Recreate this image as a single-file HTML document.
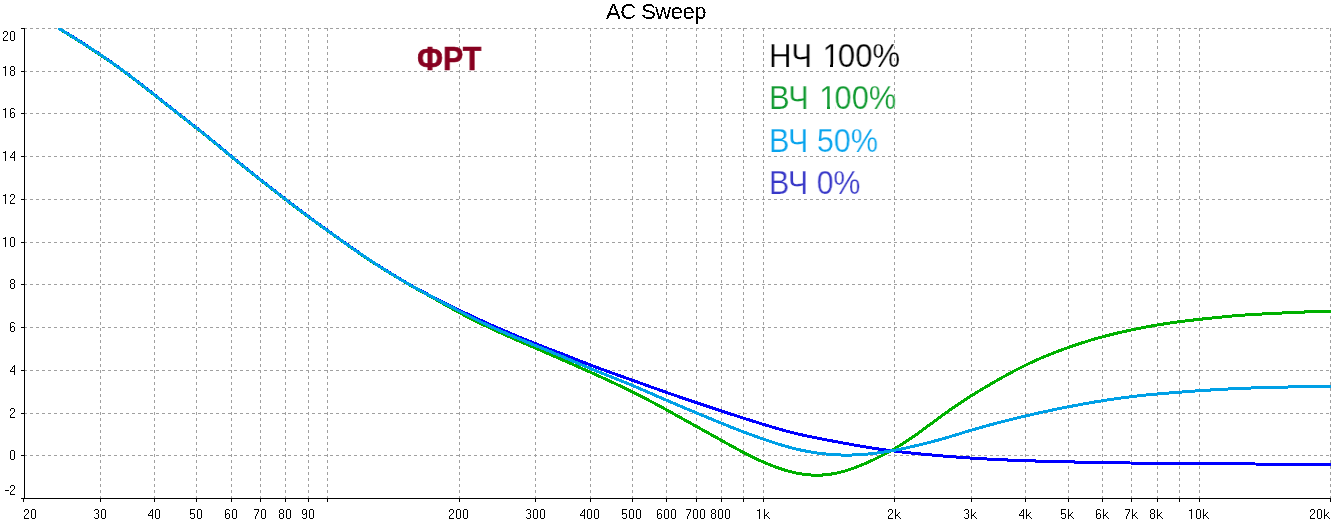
<!DOCTYPE html>
<html><head><meta charset="utf-8"><style>
html,body{margin:0;padding:0;background:#fff;width:1332px;height:522px;overflow:hidden;position:relative}
.t{position:absolute;font-family:"Liberation Sans",sans-serif;white-space:nowrap;line-height:1}
.r{right:1317px;text-align:right;letter-spacing:-0.8px;font-size:14px;filter:url(#k)}
.xl{top:507px;font-size:14px;letter-spacing:-0.8px;filter:url(#k)}
.c{width:60px;text-align:center}
</style></head><body>
<svg width="1332" height="522" style="position:absolute;left:0;top:0" shape-rendering="crispEdges"><defs><filter id="k" x="0" y="0" width="100%" height="100%"><feComponentTransfer><feFuncA type="discrete" tableValues="0 1"/></feComponentTransfer></filter><clipPath id="c"><rect x="24" y="28" width="1307" height="471"/></clipPath></defs><path d="M24 28.5H1331M24 71.5H1331M24 113.5H1331M24 156.5H1331M24 199.5H1331M24 242.5H1331M24 284.5H1331M24 327.5H1331M24 370.5H1331M24 413.5H1331M24 455.5H1331" stroke="#a0a0a0" stroke-width="1" stroke-dasharray="3 3" fill="none"/><path d="M100.5 28V498M154.5 28V498M196.5 28V498M231.5 28V498M260.5 28V498M285.5 28V498M308.5 28V498M327.5 28V498M459.5 28V498M535.5 28V498M590.5 28V498M632.5 28V498M666.5 28V498M696.5 28V498M721.5 28V498M743.5 28V498M763.5 28V498M894.5 28V498M971.5 28V498M1025.5 28V498M1068.5 28V498M1102.5 28V498M1131.5 28V498M1157.5 28V498M1179.5 28V498M1199.5 28V498M1330.5 28V498" stroke="#a0a0a0" stroke-width="1" stroke-dasharray="3 3" fill="none"/><path d="M24.5 28V499M23 498.5H1331M21 28.5H24M21 71.5H24M21 113.5H24M21 156.5H24M21 199.5H24M21 242.5H24M21 284.5H24M21 327.5H24M21 370.5H24M21 413.5H24M21 455.5H24M21 498.5H24M23.5 499V502M100.5 499V502M154.5 499V502M196.5 499V502M231.5 499V502M260.5 499V502M285.5 499V502M308.5 499V502M327.5 499V502M459.5 499V502M535.5 499V502M590.5 499V502M632.5 499V502M666.5 499V502M696.5 499V502M721.5 499V502M743.5 499V502M763.5 499V502M894.5 499V502M971.5 499V502M1025.5 499V502M1068.5 499V502M1102.5 499V502M1131.5 499V502M1157.5 499V502M1179.5 499V502M1199.5 499V502M1330.5 499V502" stroke="#000" stroke-width="1" fill="none"/><g clip-path="url(#c)"><path d="M58.4 27.91 59 28.28 60 28.90 61 29.51 62 30.13 63 30.75 64 31.36 65 31.98 66 32.60 67 33.21 68 33.83 69 34.45 70 35.07 71 35.69 72 36.31 73 36.93 74 37.56 75 38.18 76 38.80 77 39.43 78 40.06 79 40.69 80 41.31 81 41.95 82 42.58 83 43.21 84 43.85 85 44.49 86 45.13 87 45.77 88 46.41 89 47.06 90 47.70 91 48.35 92 49.01 93 49.66 94 50.32 95 50.98 96 51.64 97 52.31 98 52.97 99 53.64 100 54.32 101 54.99 102 55.67 103 56.35 104 57.04 105 57.72 106 58.41 107 59.10 108 59.80 109 60.49 110 61.19 111 61.90 112 62.60 113 63.31 114 64.02 115 64.73 116 65.45 117 66.17 118 66.89 119 67.61 120 68.34 121 69.06 122 69.80 123 70.53 124 71.27 125 72.01 126 72.75 127 73.49 128 74.24 129 74.99 130 75.74 131 76.50 132 77.25 133 78.01 134 78.77 135 79.54 136 80.30 137 81.07 138 81.84 139 82.61 140 83.38 141 84.15 142 84.93 143 85.71 144 86.48 145 87.26 146 88.04 147 88.83 148 89.61 149 90.39 150 91.18 151 91.97 152 92.75 153 93.54 154 94.33 155 95.12 156 95.91 157 96.70 158 97.49 159 98.28 160 99.08 161 99.87 162 100.66 163 101.45 164 102.25 165 103.04 166 103.83 167 104.62 168 105.41 169 106.21 170 107.00 171 107.79 172 108.58 173 109.37 174 110.16 175 110.94 176 111.73 177 112.52 178 113.30 179 114.09 180 114.87 181 115.65 182 116.43 183 117.21 184 118.00 185 118.78 186 119.56 187 120.34 188 121.12 189 121.90 190 122.68 191 123.47 192 124.25 193 125.04 194 125.82 195 126.61 196 127.40 197 128.19 198 128.98 199 129.78 200 130.57 201 131.37 202 132.17 203 132.97 204 133.77 205 134.57 206 135.38 207 136.19 208 137.00 209 137.81 210 138.63 211 139.44 212 140.26 213 141.08 214 141.90 215 142.72 216 143.55 217 144.37 218 145.20 219 146.03 220 146.86 221 147.68 222 148.51 223 149.34 224 150.17 225 151.00 226 151.83 227 152.65 228 153.48 229 154.31 230 155.13 231 155.96 232 156.78 233 157.60 234 158.42 235 159.24 236 160.06 237 160.87 238 161.69 239 162.50 240 163.31 241 164.13 242 164.94 243 165.74 244 166.55 245 167.36 246 168.16 247 168.97 248 169.77 249 170.57 250 171.37 251 172.17 252 172.96 253 173.76 254 174.55 255 175.35 256 176.14 257 176.93 258 177.72 259 178.50 260 179.29 261 180.08 262 180.86 263 181.64 264 182.42 265 183.20 266 183.98 267 184.76 268 185.54 269 186.32 270 187.10 271 187.88 272 188.66 273 189.44 274 190.22 275 190.99 276 191.77 277 192.55 278 193.33 279 194.11 280 194.88 281 195.66 282 196.44 283 197.21 284 197.98 285 198.76 286 199.53 287 200.30 288 201.07 289 201.84 290 202.61 291 203.38 292 204.15 293 204.91 294 205.67 295 206.44 296 207.20 297 207.96 298 208.72 299 209.47 300 210.23 301 210.98 302 211.73 303 212.48 304 213.23 305 213.98 306 214.72 307 215.46 308 216.20 309 216.94 310 217.68 311 218.41 312 219.15 313 219.88 314 220.61 315 221.33 316 222.06 317 222.78 318 223.51 319 224.23 320 224.95 321 225.67 322 226.39 323 227.11 324 227.83 325 228.54 326 229.26 327 229.98 328 230.69 329 231.41 330 232.13 331 232.85 332 233.56 333 234.28 334 235.00 335 235.71 336 236.43 337 237.14 338 237.86 339 238.57 340 239.29 341 240.00 342 240.72 343 241.43 344 242.14 345 242.85 346 243.56 347 244.27 348 244.98 349 245.69 350 246.39 351 247.10 352 247.80 353 248.50 354 249.20 355 249.90 356 250.60 357 251.29 358 251.98 359 252.67 360 253.36 361 254.05 362 254.73 363 255.41 364 256.09 365 256.76 366 257.44 367 258.11 368 258.77 369 259.44 370 260.10 371 260.75 372 261.41 373 262.06 374 262.71 375 263.35 376 264.00 377 264.64 378 265.28 379 265.91 380 266.55 381 267.18 382 267.81 383 268.44 384 269.07 385 269.69 386 270.32 387 270.94 388 271.56 389 272.18 390 272.80 391 273.42 392 274.03 393 274.65 394 275.26 395 275.87 396 276.48 397 277.09 398 277.69 399 278.29 400 278.89 401 279.49 402 280.09 403 280.68 404 281.27 405 281.85 406 282.43 407 283.01 408 283.58 409 284.15 410 284.72 411 285.28 412 285.84 413 286.40 414 286.95 415 287.50 416 288.05 417 288.60 418 289.14 419 289.68 420 290.21 421 290.75 422 291.28 423 291.81 424 292.34 425 292.86 426 293.39 427 293.91 428 294.43 429 294.95 430 295.47 431 295.98 432 296.50 433 297.01 434 297.53 435 298.04 436 298.55 437 299.07 438 299.58 439 300.09 440 300.59 441 301.10 442 301.61 443 302.12 444 302.62 445 303.13 446 303.63 447 304.13 448 304.63 449 305.13 450 305.63 451 306.13 452 306.62 453 307.12 454 307.61 455 308.10 456 308.59 457 309.08 458 309.57 459 310.06 460 310.55 461 311.03 462 311.51 463 311.99 464 312.47 465 312.95 466 313.43 467 313.91 468 314.38 469 314.85 470 315.33 471 315.80 472 316.27 473 316.73 474 317.20 475 317.66 476 318.13 477 318.59 478 319.05 479 319.51 480 319.97 481 320.43 482 320.88 483 321.34 484 321.79 485 322.25 486 322.70 487 323.15 488 323.60 489 324.04 490 324.49 491 324.93 492 325.38 493 325.82 494 326.26 495 326.70 496 327.14 497 327.58 498 328.02 499 328.45 500 328.89 501 329.32 502 329.75 503 330.18 504 330.61 505 331.04 506 331.47 507 331.90 508 332.32 509 332.75 510 333.17 511 333.59 512 334.02 513 334.44 514 334.86 515 335.27 516 335.69 517 336.11 518 336.52 519 336.94 520 337.35 521 337.76 522 338.17 523 338.58 524 338.99 525 339.40 526 339.81 527 340.21 528 340.62 529 341.02 530 341.43 531 341.83 532 342.23 533 342.63 534 343.03 535 343.43 536 343.83 537 344.23 538 344.62 539 345.02 540 345.41 541 345.81 542 346.20 543 346.59 544 346.98 545 347.37 546 347.76 547 348.15 548 348.54 549 348.93 550 349.31 551 349.70 552 350.09 553 350.47 554 350.85 555 351.24 556 351.62 557 352.00 558 352.38 559 352.76 560 353.15 561 353.53 562 353.91 563 354.29 564 354.68 565 355.06 566 355.45 567 355.84 568 356.23 569 356.62 570 357.01 571 357.40 572 357.79 573 358.18 574 358.58 575 358.97 576 359.36 577 359.76 578 360.15 579 360.55 580 360.94 581 361.33 582 361.73 583 362.12 584 362.51 585 362.90 586 363.29 587 363.68 588 364.07 589 364.45 590 364.84 591 365.22 592 365.60 593 365.98 594 366.36 595 366.74 596 367.11 597 367.49 598 367.86 599 368.23 600 368.60 601 368.97 602 369.34 603 369.71 604 370.07 605 370.44 606 370.80 607 371.17 608 371.53 609 371.89 610 372.25 611 372.61 612 372.97 613 373.33 614 373.69 615 374.05 616 374.41 617 374.76 618 375.12 619 375.48 620 375.83 621 376.19 622 376.55 623 376.90 624 377.26 625 377.61 626 377.97 627 378.32 628 378.68 629 379.04 630 379.39 631 379.75 632 380.11 633 380.46 634 380.82 635 381.18 636 381.54 637 381.90 638 382.26 639 382.62 640 382.98 641 383.34 642 383.70 643 384.06 644 384.41 645 384.77 646 385.13 647 385.49 648 385.85 649 386.21 650 386.57 651 386.93 652 387.29 653 387.65 654 388.01 655 388.36 656 388.72 657 389.08 658 389.43 659 389.79 660 390.15 661 390.50 662 390.85 663 391.21 664 391.56 665 391.91 666 392.26 667 392.61 668 392.96 669 393.31 670 393.66 671 394.01 672 394.36 673 394.70 674 395.05 675 395.39 676 395.74 677 396.08 678 396.42 679 396.77 680 397.11 681 397.45 682 397.79 683 398.13 684 398.47 685 398.81 686 399.15 687 399.48 688 399.82 689 400.16 690 400.50 691 400.83 692 401.17 693 401.51 694 401.84 695 402.18 696 402.51 697 402.85 698 403.18 699 403.52 700 403.85 701 404.18 702 404.52 703 404.85 704 405.18 705 405.52 706 405.85 707 406.18 708 406.51 709 406.84 710 407.18 711 407.51 712 407.84 713 408.17 714 408.50 715 408.83 716 409.16 717 409.49 718 409.82 719 410.15 720 410.48 721 410.81 722 411.14 723 411.47 724 411.80 725 412.13 726 412.46 727 412.78 728 413.11 729 413.44 730 413.77 731 414.09 732 414.42 733 414.75 734 415.07 735 415.40 736 415.72 737 416.05 738 416.37 739 416.69 740 417.01 741 417.34 742 417.66 743 417.98 744 418.30 745 418.62 746 418.94 747 419.25 748 419.57 749 419.89 750 420.20 751 420.52 752 420.83 753 421.15 754 421.46 755 421.77 756 422.08 757 422.39 758 422.70 759 423.01 760 423.32 761 423.63 762 423.94 763 424.25 764 424.55 765 424.86 766 425.16 767 425.47 768 425.77 769 426.07 770 426.37 771 426.68 772 426.98 773 427.28 774 427.58 775 427.87 776 428.17 777 428.46 778 428.75 779 429.04 780 429.33 781 429.61 782 429.89 783 430.17 784 430.44 785 430.72 786 430.99 787 431.25 788 431.52 789 431.78 790 432.04 791 432.29 792 432.54 793 432.79 794 433.04 795 433.29 796 433.53 797 433.76 798 434.00 799 434.23 800 434.46 801 434.69 802 434.91 803 435.13 804 435.35 805 435.57 806 435.78 807 435.99 808 436.20 809 436.41 810 436.62 811 436.82 812 437.03 813 437.23 814 437.43 815 437.63 816 437.82 817 438.02 818 438.21 819 438.41 820 438.60 821 438.80 822 438.99 823 439.18 824 439.37 825 439.56 826 439.75 827 439.94 828 440.13 829 440.32 830 440.51 831 440.70 832 440.89 833 441.08 834 441.27 835 441.46 836 441.65 837 441.83 838 442.02 839 442.21 840 442.40 841 442.59 842 442.77 843 442.96 844 443.15 845 443.33 846 443.52 847 443.70 848 443.89 849 444.07 850 444.25 851 444.43 852 444.62 853 444.80 854 444.98 855 445.16 856 445.33 857 445.51 858 445.69 859 445.86 860 446.03 861 446.21 862 446.38 863 446.55 864 446.72 865 446.88 866 447.05 867 447.22 868 447.38 869 447.54 870 447.70 871 447.86 872 448.02 873 448.17 874 448.33 875 448.48 876 448.63 877 448.78 878 448.93 879 449.07 880 449.21 881 449.35 882 449.49 883 449.63 884 449.77 885 449.90 886 450.03 887 450.16 888 450.29 889 450.42 890 450.55 891 450.67 892 450.80 893 450.92 894 451.04 895 451.16 896 451.28 897 451.40 898 451.52 899 451.63 900 451.75 901 451.86 902 451.98 903 452.09 904 452.20 905 452.31 906 452.42 907 452.53 908 452.64 909 452.75 910 452.85 911 452.96 912 453.06 913 453.17 914 453.27 915 453.37 916 453.47 917 453.58 918 453.68 919 453.78 920 453.87 921 453.97 922 454.07 923 454.17 924 454.26 925 454.36 926 454.46 927 454.55 928 454.64 929 454.74 930 454.83 931 454.92 932 455.01 933 455.11 934 455.20 935 455.29 936 455.38 937 455.46 938 455.55 939 455.64 940 455.73 941 455.81 942 455.90 943 455.98 944 456.07 945 456.15 946 456.24 947 456.32 948 456.40 949 456.48 950 456.56 951 456.64 952 456.72 953 456.80 954 456.88 955 456.96 956 457.03 957 457.11 958 457.18 959 457.26 960 457.33 961 457.40 962 457.47 963 457.54 964 457.61 965 457.68 966 457.75 967 457.82 968 457.89 969 457.95 970 458.02 971 458.08 972 458.15 973 458.21 974 458.27 975 458.34 976 458.40 977 458.46 978 458.52 979 458.58 980 458.64 981 458.70 982 458.75 983 458.81 984 458.87 985 458.92 986 458.98 987 459.03 988 459.08 989 459.14 990 459.19 991 459.24 992 459.29 993 459.34 994 459.39 995 459.44 996 459.49 997 459.54 998 459.59 999 459.64 1000 459.68 1001 459.73 1002 459.77 1003 459.82 1004 459.86 1005 459.91 1006 459.95 1007 459.99 1008 460.03 1009 460.07 1010 460.12 1011 460.16 1012 460.20 1013 460.24 1014 460.27 1015 460.31 1016 460.35 1017 460.39 1018 460.42 1019 460.46 1020 460.50 1021 460.53 1022 460.57 1023 460.60 1024 460.64 1025 460.67 1026 460.70 1027 460.74 1028 460.77 1029 460.80 1030 460.83 1031 460.87 1032 460.90 1033 460.93 1034 460.96 1035 460.99 1036 461.02 1037 461.05 1038 461.08 1039 461.11 1040 461.14 1041 461.17 1042 461.19 1043 461.22 1044 461.25 1045 461.28 1046 461.31 1047 461.33 1048 461.36 1049 461.39 1050 461.41 1051 461.44 1052 461.47 1053 461.49 1054 461.52 1055 461.54 1056 461.57 1057 461.59 1058 461.62 1059 461.64 1060 461.67 1061 461.69 1062 461.72 1063 461.74 1064 461.76 1065 461.79 1066 461.81 1067 461.83 1068 461.86 1069 461.88 1070 461.90 1071 461.93 1072 461.95 1073 461.97 1074 461.99 1075 462.02 1076 462.04 1077 462.06 1078 462.08 1079 462.10 1080 462.12 1081 462.14 1082 462.17 1083 462.19 1084 462.21 1085 462.23 1086 462.25 1087 462.27 1088 462.29 1089 462.31 1090 462.33 1091 462.35 1092 462.37 1093 462.39 1094 462.41 1095 462.43 1096 462.44 1097 462.46 1098 462.48 1099 462.50 1100 462.52 1101 462.54 1102 462.56 1103 462.57 1104 462.59 1105 462.61 1106 462.63 1107 462.64 1108 462.66 1109 462.68 1110 462.69 1111 462.71 1112 462.73 1113 462.74 1114 462.76 1115 462.78 1116 462.79 1117 462.81 1118 462.82 1119 462.84 1120 462.85 1121 462.87 1122 462.88 1123 462.90 1124 462.91 1125 462.93 1126 462.94 1127 462.96 1128 462.97 1129 462.98 1130 463.00 1131 463.01 1132 463.02 1133 463.04 1134 463.05 1135 463.06 1136 463.08 1137 463.09 1138 463.10 1139 463.11 1140 463.13 1141 463.14 1142 463.15 1143 463.16 1144 463.17 1145 463.19 1146 463.20 1147 463.21 1148 463.22 1149 463.23 1150 463.24 1151 463.25 1152 463.26 1153 463.27 1154 463.28 1155 463.30 1156 463.31 1157 463.32 1158 463.33 1159 463.34 1160 463.35 1161 463.36 1162 463.36 1163 463.37 1164 463.38 1165 463.39 1166 463.40 1167 463.41 1168 463.42 1169 463.43 1170 463.44 1171 463.45 1172 463.46 1173 463.46 1174 463.47 1175 463.48 1176 463.49 1177 463.50 1178 463.51 1179 463.51 1180 463.52 1181 463.53 1182 463.54 1183 463.55 1184 463.55 1185 463.56 1186 463.57 1187 463.58 1188 463.58 1189 463.59 1190 463.60 1191 463.61 1192 463.61 1193 463.62 1194 463.63 1195 463.63 1196 463.64 1197 463.65 1198 463.65 1199 463.66 1200 463.67 1201 463.67 1202 463.68 1203 463.69 1204 463.69 1205 463.70 1206 463.71 1207 463.71 1208 463.72 1209 463.73 1210 463.73 1211 463.74 1212 463.75 1213 463.75 1214 463.76 1215 463.76 1216 463.77 1217 463.78 1218 463.78 1219 463.79 1220 463.79 1221 463.80 1222 463.81 1223 463.81 1224 463.82 1225 463.83 1226 463.83 1227 463.84 1228 463.84 1229 463.85 1230 463.85 1231 463.86 1232 463.87 1233 463.87 1234 463.88 1235 463.88 1236 463.89 1237 463.90 1238 463.90 1239 463.91 1240 463.91 1241 463.92 1242 463.92 1243 463.93 1244 463.94 1245 463.94 1246 463.95 1247 463.95 1248 463.96 1249 463.96 1250 463.97 1251 463.98 1252 463.98 1253 463.99 1254 463.99 1255 464.00 1256 464.00 1257 464.01 1258 464.02 1259 464.02 1260 464.03 1261 464.03 1262 464.04 1263 464.04 1264 464.05 1265 464.05 1266 464.06 1267 464.06 1268 464.07 1269 464.08 1270 464.08 1271 464.09 1272 464.09 1273 464.10 1274 464.10 1275 464.11 1276 464.11 1277 464.12 1278 464.12 1279 464.13 1280 464.13 1281 464.14 1282 464.15 1283 464.15 1284 464.16 1285 464.16 1286 464.17 1287 464.17 1288 464.18 1289 464.18 1290 464.19 1291 464.19 1292 464.20 1293 464.20 1294 464.21 1295 464.21 1296 464.22 1297 464.22 1298 464.23 1299 464.23 1300 464.24 1301 464.25 1302 464.25 1303 464.26 1304 464.26 1305 464.27 1306 464.27 1307 464.28 1308 464.28 1309 464.29 1310 464.29 1311 464.30 1312 464.30 1313 464.31 1314 464.31 1315 464.32 1316 464.32 1317 464.33 1318 464.33 1319 464.34 1320 464.34 1321 464.35 1322 464.35 1323 464.36 1324 464.36 1325 464.37 1326 464.37 1327 464.38 1328 464.38 1329 464.39 1330 464.39 1331 464.40" stroke="#0000ff" stroke-width="3" fill="none" stroke-linejoin="round"/><path d="M58.4 28.31 59 28.68 60 29.30 61 29.91 62 30.53 63 31.15 64 31.76 65 32.38 66 33.00 67 33.61 68 34.23 69 34.85 70 35.47 71 36.09 72 36.71 73 37.33 74 37.96 75 38.58 76 39.20 77 39.83 78 40.46 79 41.09 80 41.71 81 42.35 82 42.98 83 43.61 84 44.25 85 44.89 86 45.53 87 46.17 88 46.81 89 47.46 90 48.10 91 48.75 92 49.41 93 50.06 94 50.72 95 51.38 96 52.04 97 52.71 98 53.37 99 54.04 100 54.72 101 55.39 102 56.07 103 56.75 104 57.44 105 58.12 106 58.81 107 59.50 108 60.20 109 60.89 110 61.59 111 62.30 112 63.00 113 63.71 114 64.42 115 65.13 116 65.85 117 66.57 118 67.29 119 68.01 120 68.74 121 69.46 122 70.20 123 70.93 124 71.67 125 72.41 126 73.15 127 73.89 128 74.64 129 75.39 130 76.14 131 76.90 132 77.65 133 78.41 134 79.17 135 79.94 136 80.70 137 81.47 138 82.24 139 83.01 140 83.78 141 84.55 142 85.33 143 86.11 144 86.88 145 87.66 146 88.44 147 89.23 148 90.01 149 90.79 150 91.58 151 92.37 152 93.15 153 93.94 154 94.73 155 95.52 156 96.31 157 97.10 158 97.89 159 98.68 160 99.48 161 100.27 162 101.06 163 101.85 164 102.65 165 103.44 166 104.23 167 105.02 168 105.81 169 106.61 170 107.40 171 108.19 172 108.98 173 109.77 174 110.56 175 111.34 176 112.13 177 112.92 178 113.70 179 114.49 180 115.27 181 116.05 182 116.83 183 117.61 184 118.40 185 119.18 186 119.96 187 120.74 188 121.52 189 122.30 190 123.08 191 123.87 192 124.65 193 125.44 194 126.22 195 127.01 196 127.80 197 128.59 198 129.38 199 130.18 200 130.97 201 131.77 202 132.57 203 133.37 204 134.17 205 134.97 206 135.78 207 136.59 208 137.40 209 138.21 210 139.03 211 139.84 212 140.66 213 141.48 214 142.30 215 143.12 216 143.95 217 144.77 218 145.60 219 146.43 220 147.26 221 148.08 222 148.91 223 149.74 224 150.57 225 151.40 226 152.23 227 153.05 228 153.88 229 154.71 230 155.53 231 156.36 232 157.18 233 158.00 234 158.82 235 159.64 236 160.46 237 161.27 238 162.09 239 162.90 240 163.71 241 164.53 242 165.34 243 166.14 244 166.95 245 167.76 246 168.56 247 169.37 248 170.17 249 170.97 250 171.77 251 172.57 252 173.36 253 174.16 254 174.95 255 175.75 256 176.54 257 177.33 258 178.12 259 178.90 260 179.69 261 180.48 262 181.26 263 182.04 264 182.82 265 183.60 266 184.38 267 185.16 268 185.94 269 186.72 270 187.50 271 188.28 272 189.06 273 189.84 274 190.62 275 191.39 276 192.17 277 192.95 278 193.73 279 194.51 280 195.28 281 196.06 282 196.84 283 197.61 284 198.38 285 199.16 286 199.93 287 200.70 288 201.47 289 202.24 290 203.01 291 203.78 292 204.55 293 205.31 294 206.07 295 206.84 296 207.60 297 208.36 298 209.12 299 209.87 300 210.63 301 211.38 302 212.13 303 212.88 304 213.63 305 214.38 306 215.12 307 215.86 308 216.60 309 217.34 310 218.08 311 218.81 312 219.55 313 220.28 314 221.01 315 221.74 316 222.46 317 223.19 318 223.91 319 224.63 320 225.35 321 226.07 322 226.79 323 227.51 324 228.23 325 228.95 326 229.66 327 230.38 328 231.10 329 231.81 330 232.53 331 233.25 332 233.96 333 234.68 334 235.40 335 236.11 336 236.83 337 237.55 338 238.26 339 238.98 340 239.69 341 240.40 342 241.12 343 241.83 344 242.54 345 243.25 346 243.96 347 244.67 348 245.38 349 246.09 350 246.79 351 247.50 352 248.20 353 248.90 354 249.60 355 250.30 356 250.99 357 251.68 358 252.38 359 253.07 360 253.75 361 254.44 362 255.12 363 255.80 364 256.48 365 257.15 366 257.82 367 258.49 368 259.16 369 259.82 370 260.48 371 261.13 372 261.78 373 262.43 374 263.08 375 263.73 376 264.37 377 265.01 378 265.64 379 266.28 380 266.91 381 267.54 382 268.17 383 268.80 384 269.42 385 270.05 386 270.67 387 271.29 388 271.91 389 272.53 390 273.14 391 273.76 392 274.37 393 274.99 394 275.60 395 276.21 396 276.82 397 277.42 398 278.03 399 278.63 400 279.23 401 279.83 402 280.43 403 281.02 404 281.62 405 282.21 406 282.79 407 283.38 408 283.96 409 284.53 410 285.11 411 285.68 412 286.25 413 286.82 414 287.38 415 287.95 416 288.51 417 289.07 418 289.63 419 290.18 420 290.74 421 291.29 422 291.85 423 292.40 424 292.95 425 293.51 426 294.06 427 294.61 428 295.17 429 295.72 430 296.27 431 296.83 432 297.38 433 297.94 434 298.50 435 299.06 436 299.61 437 300.18 438 300.74 439 301.30 440 301.86 441 302.43 442 302.99 443 303.55 444 304.11 445 304.68 446 305.24 447 305.80 448 306.36 449 306.92 450 307.48 451 308.04 452 308.59 453 309.15 454 309.70 455 310.25 456 310.80 457 311.34 458 311.88 459 312.43 460 312.96 461 313.50 462 314.03 463 314.56 464 315.09 465 315.61 466 316.13 467 316.65 468 317.17 469 317.68 470 318.19 471 318.70 472 319.21 473 319.71 474 320.21 475 320.71 476 321.21 477 321.70 478 322.19 479 322.68 480 323.17 481 323.66 482 324.14 483 324.63 484 325.11 485 325.58 486 326.06 487 326.53 488 327.01 489 327.48 490 327.95 491 328.42 492 328.88 493 329.35 494 329.81 495 330.27 496 330.73 497 331.19 498 331.64 499 332.10 500 332.55 501 333.01 502 333.46 503 333.91 504 334.36 505 334.81 506 335.25 507 335.70 508 336.15 509 336.59 510 337.03 511 337.47 512 337.92 513 338.36 514 338.80 515 339.24 516 339.67 517 340.11 518 340.55 519 340.98 520 341.42 521 341.86 522 342.29 523 342.73 524 343.16 525 343.59 526 344.03 527 344.46 528 344.89 529 345.33 530 345.76 531 346.19 532 346.62 533 347.06 534 347.49 535 347.92 536 348.35 537 348.78 538 349.22 539 349.65 540 350.08 541 350.52 542 350.95 543 351.38 544 351.82 545 352.25 546 352.68 547 353.12 548 353.55 549 353.99 550 354.42 551 354.85 552 355.29 553 355.72 554 356.16 555 356.60 556 357.03 557 357.47 558 357.90 559 358.34 560 358.78 561 359.22 562 359.65 563 360.09 564 360.53 565 360.97 566 361.41 567 361.85 568 362.28 569 362.72 570 363.16 571 363.61 572 364.05 573 364.49 574 364.93 575 365.37 576 365.81 577 366.26 578 366.70 579 367.14 580 367.59 581 368.03 582 368.48 583 368.92 584 369.37 585 369.81 586 370.26 587 370.71 588 371.16 589 371.60 590 372.05 591 372.50 592 372.95 593 373.40 594 373.85 595 374.31 596 374.76 597 375.21 598 375.66 599 376.12 600 376.57 601 377.03 602 377.49 603 377.94 604 378.40 605 378.86 606 379.32 607 379.78 608 380.25 609 380.71 610 381.17 611 381.64 612 382.10 613 382.57 614 383.04 615 383.51 616 383.98 617 384.46 618 384.93 619 385.40 620 385.88 621 386.36 622 386.84 623 387.32 624 387.80 625 388.28 626 388.77 627 389.26 628 389.75 629 390.24 630 390.73 631 391.22 632 391.72 633 392.21 634 392.71 635 393.21 636 393.71 637 394.22 638 394.72 639 395.23 640 395.74 641 396.25 642 396.77 643 397.28 644 397.80 645 398.32 646 398.84 647 399.36 648 399.89 649 400.41 650 400.94 651 401.47 652 402.00 653 402.53 654 403.06 655 403.60 656 404.14 657 404.67 658 405.21 659 405.75 660 406.29 661 406.84 662 407.38 663 407.92 664 408.47 665 409.02 666 409.56 667 410.11 668 410.66 669 411.21 670 411.76 671 412.32 672 412.87 673 413.42 674 413.98 675 414.53 676 415.09 677 415.64 678 416.20 679 416.75 680 417.31 681 417.87 682 418.43 683 418.98 684 419.54 685 420.10 686 420.66 687 421.22 688 421.78 689 422.34 690 422.90 691 423.46 692 424.01 693 424.57 694 425.13 695 425.69 696 426.25 697 426.81 698 427.37 699 427.92 700 428.48 701 429.03 702 429.59 703 430.14 704 430.70 705 431.25 706 431.80 707 432.36 708 432.91 709 433.46 710 434.01 711 434.57 712 435.12 713 435.68 714 436.23 715 436.79 716 437.35 717 437.91 718 438.47 719 439.03 720 439.59 721 440.15 722 440.71 723 441.27 724 441.82 725 442.38 726 442.94 727 443.49 728 444.05 729 444.60 730 445.16 731 445.71 732 446.26 733 446.80 734 447.35 735 447.90 736 448.44 737 448.98 738 449.52 739 450.05 740 450.59 741 451.12 742 451.65 743 452.17 744 452.70 745 453.22 746 453.73 747 454.25 748 454.76 749 455.26 750 455.77 751 456.27 752 456.76 753 457.25 754 457.74 755 458.23 756 458.71 757 459.18 758 459.65 759 460.12 760 460.58 761 461.03 762 461.48 763 461.93 764 462.37 765 462.80 766 463.23 767 463.65 768 464.07 769 464.48 770 464.89 771 465.29 772 465.68 773 466.07 774 466.45 775 466.82 776 467.19 777 467.55 778 467.90 779 468.25 780 468.59 781 468.92 782 469.25 783 469.57 784 469.88 785 470.18 786 470.47 787 470.76 788 471.04 789 471.31 790 471.58 791 471.83 792 472.08 793 472.31 794 472.54 795 472.76 796 472.98 797 473.18 798 473.37 799 473.56 800 473.73 801 473.90 802 474.05 803 474.20 804 474.34 805 474.46 806 474.58 807 474.69 808 474.79 809 474.87 810 474.95 811 475.01 812 475.07 813 475.11 814 475.15 815 475.17 816 475.19 817 475.19 818 475.18 819 475.16 820 475.13 821 475.09 822 475.04 823 474.98 824 474.91 825 474.82 826 474.73 827 474.62 828 474.51 829 474.38 830 474.25 831 474.10 832 473.94 833 473.77 834 473.59 835 473.40 836 473.20 837 472.99 838 472.77 839 472.54 840 472.30 841 472.05 842 471.79 843 471.52 844 471.24 845 470.95 846 470.65 847 470.35 848 470.03 849 469.71 850 469.38 851 469.04 852 468.69 853 468.33 854 467.97 855 467.60 856 467.23 857 466.85 858 466.46 859 466.06 860 465.66 861 465.26 862 464.84 863 464.43 864 464.00 865 463.57 866 463.14 867 462.70 868 462.25 869 461.80 870 461.35 871 460.89 872 460.42 873 459.95 874 459.47 875 458.99 876 458.51 877 458.02 878 457.52 879 457.02 880 456.52 881 456.01 882 455.50 883 454.98 884 454.46 885 453.93 886 453.40 887 452.86 888 452.32 889 451.77 890 451.22 891 450.66 892 450.10 893 449.53 894 448.96 895 448.38 896 447.80 897 447.21 898 446.61 899 446.01 900 445.40 901 444.79 902 444.17 903 443.54 904 442.90 905 442.26 906 441.62 907 440.96 908 440.30 909 439.63 910 438.96 911 438.28 912 437.59 913 436.89 914 436.19 915 435.49 916 434.78 917 434.07 918 433.35 919 432.62 920 431.90 921 431.17 922 430.44 923 429.70 924 428.96 925 428.22 926 427.48 927 426.74 928 426.00 929 425.25 930 424.51 931 423.76 932 423.02 933 422.27 934 421.53 935 420.78 936 420.04 937 419.30 938 418.56 939 417.82 940 417.09 941 416.35 942 415.62 943 414.90 944 414.17 945 413.45 946 412.74 947 412.03 948 411.32 949 410.61 950 409.91 951 409.21 952 408.52 953 407.82 954 407.14 955 406.45 956 405.77 957 405.09 958 404.42 959 403.75 960 403.08 961 402.41 962 401.75 963 401.10 964 400.44 965 399.79 966 399.14 967 398.50 968 397.86 969 397.22 970 396.58 971 395.95 972 395.32 973 394.70 974 394.08 975 393.46 976 392.84 977 392.23 978 391.62 979 391.01 980 390.40 981 389.80 982 389.20 983 388.60 984 388.01 985 387.42 986 386.82 987 386.24 988 385.65 989 385.07 990 384.48 991 383.90 992 383.33 993 382.75 994 382.17 995 381.60 996 381.03 997 380.46 998 379.89 999 379.32 1000 378.76 1001 378.19 1002 377.63 1003 377.07 1004 376.51 1005 375.96 1006 375.40 1007 374.85 1008 374.30 1009 373.76 1010 373.21 1011 372.67 1012 372.14 1013 371.60 1014 371.07 1015 370.55 1016 370.02 1017 369.50 1018 368.98 1019 368.47 1020 367.96 1021 367.45 1022 366.95 1023 366.45 1024 365.95 1025 365.46 1026 364.97 1027 364.49 1028 364.00 1029 363.53 1030 363.05 1031 362.59 1032 362.12 1033 361.66 1034 361.20 1035 360.74 1036 360.29 1037 359.85 1038 359.40 1039 358.96 1040 358.53 1041 358.09 1042 357.66 1043 357.24 1044 356.82 1045 356.40 1046 355.98 1047 355.57 1048 355.16 1049 354.75 1050 354.35 1051 353.95 1052 353.56 1053 353.16 1054 352.77 1055 352.39 1056 352.00 1057 351.62 1058 351.25 1059 350.87 1060 350.50 1061 350.13 1062 349.76 1063 349.40 1064 349.03 1065 348.67 1066 348.31 1067 347.96 1068 347.61 1069 347.25 1070 346.91 1071 346.56 1072 346.21 1073 345.87 1074 345.53 1075 345.19 1076 344.86 1077 344.52 1078 344.19 1079 343.86 1080 343.53 1081 343.21 1082 342.89 1083 342.57 1084 342.25 1085 341.93 1086 341.62 1087 341.31 1088 341.00 1089 340.70 1090 340.39 1091 340.09 1092 339.79 1093 339.50 1094 339.20 1095 338.91 1096 338.62 1097 338.34 1098 338.05 1099 337.77 1100 337.49 1101 337.22 1102 336.95 1103 336.68 1104 336.41 1105 336.14 1106 335.88 1107 335.62 1108 335.36 1109 335.11 1110 334.86 1111 334.61 1112 334.36 1113 334.11 1114 333.87 1115 333.63 1116 333.39 1117 333.15 1118 332.92 1119 332.68 1120 332.45 1121 332.22 1122 331.99 1123 331.76 1124 331.53 1125 331.31 1126 331.09 1127 330.86 1128 330.64 1129 330.43 1130 330.21 1131 330.00 1132 329.78 1133 329.57 1134 329.36 1135 329.16 1136 328.95 1137 328.75 1138 328.55 1139 328.35 1140 328.15 1141 327.95 1142 327.76 1143 327.56 1144 327.37 1145 327.18 1146 327.00 1147 326.81 1148 326.63 1149 326.45 1150 326.27 1151 326.09 1152 325.91 1153 325.74 1154 325.56 1155 325.39 1156 325.22 1157 325.06 1158 324.89 1159 324.73 1160 324.57 1161 324.40 1162 324.25 1163 324.09 1164 323.93 1165 323.78 1166 323.63 1167 323.48 1168 323.33 1169 323.18 1170 323.04 1171 322.89 1172 322.75 1173 322.61 1174 322.47 1175 322.33 1176 322.20 1177 322.06 1178 321.93 1179 321.79 1180 321.66 1181 321.53 1182 321.40 1183 321.28 1184 321.15 1185 321.03 1186 320.90 1187 320.78 1188 320.66 1189 320.54 1190 320.42 1191 320.30 1192 320.19 1193 320.07 1194 319.95 1195 319.84 1196 319.73 1197 319.61 1198 319.50 1199 319.39 1200 319.28 1201 319.17 1202 319.06 1203 318.95 1204 318.85 1205 318.74 1206 318.63 1207 318.53 1208 318.42 1209 318.32 1210 318.21 1211 318.11 1212 318.00 1213 317.90 1214 317.79 1215 317.69 1216 317.59 1217 317.48 1218 317.38 1219 317.28 1220 317.18 1221 317.08 1222 316.98 1223 316.88 1224 316.78 1225 316.68 1226 316.59 1227 316.49 1228 316.40 1229 316.31 1230 316.22 1231 316.13 1232 316.04 1233 315.95 1234 315.87 1235 315.78 1236 315.70 1237 315.62 1238 315.54 1239 315.47 1240 315.39 1241 315.32 1242 315.24 1243 315.17 1244 315.10 1245 315.03 1246 314.96 1247 314.90 1248 314.83 1249 314.77 1250 314.70 1251 314.64 1252 314.58 1253 314.52 1254 314.46 1255 314.40 1256 314.34 1257 314.28 1258 314.23 1259 314.17 1260 314.12 1261 314.06 1262 314.01 1263 313.95 1264 313.90 1265 313.85 1266 313.80 1267 313.74 1268 313.69 1269 313.64 1270 313.59 1271 313.54 1272 313.49 1273 313.44 1274 313.39 1275 313.34 1276 313.29 1277 313.24 1278 313.19 1279 313.14 1280 313.09 1281 313.05 1282 313.00 1283 312.95 1284 312.90 1285 312.86 1286 312.81 1287 312.76 1288 312.72 1289 312.67 1290 312.63 1291 312.58 1292 312.53 1293 312.49 1294 312.45 1295 312.40 1296 312.36 1297 312.32 1298 312.27 1299 312.23 1300 312.19 1301 312.15 1302 312.11 1303 312.07 1304 312.03 1305 311.99 1306 311.95 1307 311.91 1308 311.88 1309 311.84 1310 311.80 1311 311.77 1312 311.74 1313 311.70 1314 311.67 1315 311.64 1316 311.61 1317 311.57 1318 311.54 1319 311.51 1320 311.48 1321 311.45 1322 311.43 1323 311.40 1324 311.37 1325 311.34 1326 311.31 1327 311.28 1328 311.26 1329 311.23 1330 311.20 1331 311.17" stroke="#00b000" stroke-width="3" fill="none" stroke-linejoin="round"/><path d="M58.4 28.11 59 28.48 60 29.10 61 29.71 62 30.33 63 30.95 64 31.56 65 32.18 66 32.80 67 33.41 68 34.03 69 34.65 70 35.27 71 35.89 72 36.51 73 37.13 74 37.76 75 38.38 76 39.00 77 39.63 78 40.26 79 40.89 80 41.51 81 42.15 82 42.78 83 43.41 84 44.05 85 44.69 86 45.33 87 45.97 88 46.61 89 47.26 90 47.90 91 48.55 92 49.21 93 49.86 94 50.52 95 51.18 96 51.84 97 52.51 98 53.17 99 53.84 100 54.52 101 55.19 102 55.87 103 56.55 104 57.24 105 57.92 106 58.61 107 59.30 108 60.00 109 60.69 110 61.39 111 62.10 112 62.80 113 63.51 114 64.22 115 64.93 116 65.65 117 66.37 118 67.09 119 67.81 120 68.54 121 69.26 122 70.00 123 70.73 124 71.47 125 72.21 126 72.95 127 73.69 128 74.44 129 75.19 130 75.94 131 76.70 132 77.45 133 78.21 134 78.97 135 79.74 136 80.50 137 81.27 138 82.04 139 82.81 140 83.58 141 84.35 142 85.13 143 85.91 144 86.68 145 87.46 146 88.24 147 89.03 148 89.81 149 90.59 150 91.38 151 92.17 152 92.95 153 93.74 154 94.53 155 95.32 156 96.11 157 96.90 158 97.69 159 98.48 160 99.28 161 100.07 162 100.86 163 101.65 164 102.45 165 103.24 166 104.03 167 104.82 168 105.61 169 106.41 170 107.20 171 107.99 172 108.78 173 109.57 174 110.36 175 111.14 176 111.93 177 112.72 178 113.50 179 114.29 180 115.07 181 115.85 182 116.63 183 117.41 184 118.20 185 118.98 186 119.76 187 120.54 188 121.32 189 122.10 190 122.88 191 123.67 192 124.45 193 125.24 194 126.02 195 126.81 196 127.60 197 128.39 198 129.18 199 129.98 200 130.77 201 131.57 202 132.37 203 133.17 204 133.97 205 134.77 206 135.58 207 136.39 208 137.20 209 138.01 210 138.83 211 139.64 212 140.46 213 141.28 214 142.10 215 142.92 216 143.75 217 144.57 218 145.40 219 146.23 220 147.06 221 147.88 222 148.71 223 149.54 224 150.37 225 151.20 226 152.03 227 152.85 228 153.68 229 154.51 230 155.33 231 156.16 232 156.98 233 157.80 234 158.62 235 159.44 236 160.26 237 161.07 238 161.89 239 162.70 240 163.51 241 164.33 242 165.14 243 165.94 244 166.75 245 167.56 246 168.36 247 169.17 248 169.97 249 170.77 250 171.57 251 172.37 252 173.16 253 173.96 254 174.75 255 175.55 256 176.34 257 177.13 258 177.92 259 178.70 260 179.49 261 180.28 262 181.06 263 181.84 264 182.62 265 183.40 266 184.18 267 184.96 268 185.74 269 186.52 270 187.30 271 188.08 272 188.86 273 189.64 274 190.42 275 191.19 276 191.97 277 192.75 278 193.53 279 194.31 280 195.08 281 195.86 282 196.64 283 197.41 284 198.18 285 198.96 286 199.73 287 200.50 288 201.27 289 202.04 290 202.81 291 203.58 292 204.35 293 205.11 294 205.87 295 206.64 296 207.40 297 208.16 298 208.92 299 209.67 300 210.43 301 211.18 302 211.93 303 212.68 304 213.43 305 214.18 306 214.92 307 215.66 308 216.40 309 217.14 310 217.88 311 218.61 312 219.35 313 220.08 314 220.81 315 221.53 316 222.26 317 222.99 318 223.71 319 224.43 320 225.15 321 225.87 322 226.59 323 227.31 324 228.03 325 228.74 326 229.46 327 230.18 328 230.90 329 231.61 330 232.33 331 233.05 332 233.76 333 234.48 334 235.20 335 235.91 336 236.63 337 237.35 338 238.06 339 238.78 340 239.49 341 240.20 342 240.92 343 241.63 344 242.34 345 243.05 346 243.76 347 244.47 348 245.18 349 245.89 350 246.59 351 247.30 352 248.00 353 248.70 354 249.40 355 250.10 356 250.80 357 251.49 358 252.18 359 252.87 360 253.56 361 254.25 362 254.93 363 255.61 364 256.29 365 256.96 366 257.63 367 258.30 368 258.97 369 259.63 370 260.29 371 260.95 372 261.60 373 262.25 374 262.90 375 263.55 376 264.19 377 264.83 378 265.47 379 266.10 380 266.74 381 267.37 382 268.00 383 268.63 384 269.25 385 269.88 386 270.50 387 271.12 388 271.74 389 272.36 390 272.98 391 273.59 392 274.21 393 274.82 394 275.43 395 276.04 396 276.65 397 277.26 398 277.86 399 278.46 400 279.06 401 279.66 402 280.25 403 280.84 404 281.43 405 282.02 406 282.60 407 283.18 408 283.75 409 284.33 410 284.89 411 285.46 412 286.02 413 286.58 414 287.13 415 287.69 416 288.24 417 288.79 418 289.33 419 289.88 420 290.42 421 290.96 422 291.50 423 292.03 424 292.57 425 293.10 426 293.64 427 294.17 428 294.70 429 295.23 430 295.76 431 296.29 432 296.82 433 297.35 434 297.88 435 298.41 436 298.94 437 299.46 438 299.99 439 300.52 440 301.05 441 301.58 442 302.11 443 302.64 444 303.16 445 303.69 446 304.22 447 304.74 448 305.27 449 305.79 450 306.32 451 306.84 452 307.36 453 307.88 454 308.41 455 308.93 456 309.44 457 309.96 458 310.48 459 310.99 460 311.51 461 312.02 462 312.54 463 313.05 464 313.56 465 314.06 466 314.57 467 315.08 468 315.58 469 316.08 470 316.58 471 317.08 472 317.58 473 318.08 474 318.57 475 319.06 476 319.55 477 320.04 478 320.53 479 321.01 480 321.50 481 321.98 482 322.46 483 322.94 484 323.41 485 323.89 486 324.36 487 324.83 488 325.29 489 325.76 490 326.22 491 326.68 492 327.14 493 327.60 494 328.05 495 328.50 496 328.95 497 329.40 498 329.84 499 330.29 500 330.73 501 331.17 502 331.60 503 332.04 504 332.47 505 332.91 506 333.34 507 333.77 508 334.19 509 334.62 510 335.04 511 335.47 512 335.89 513 336.31 514 336.73 515 337.15 516 337.56 517 337.98 518 338.39 519 338.81 520 339.22 521 339.63 522 340.04 523 340.46 524 340.87 525 341.28 526 341.68 527 342.09 528 342.50 529 342.91 530 343.32 531 343.72 532 344.13 533 344.54 534 344.94 535 345.35 536 345.76 537 346.16 538 346.57 539 346.98 540 347.38 541 347.79 542 348.20 543 348.61 544 349.01 545 349.42 546 349.83 547 350.24 548 350.65 549 351.06 550 351.48 551 351.89 552 352.30 553 352.71 554 353.13 555 353.55 556 353.96 557 354.38 558 354.80 559 355.22 560 355.64 561 356.06 562 356.48 563 356.91 564 357.33 565 357.75 566 358.18 567 358.60 568 359.03 569 359.45 570 359.88 571 360.30 572 360.73 573 361.15 574 361.58 575 362.00 576 362.43 577 362.85 578 363.28 579 363.70 580 364.12 581 364.54 582 364.96 583 365.39 584 365.80 585 366.22 586 366.64 587 367.06 588 367.47 589 367.89 590 368.30 591 368.71 592 369.12 593 369.53 594 369.94 595 370.35 596 370.75 597 371.16 598 371.56 599 371.96 600 372.37 601 372.77 602 373.17 603 373.57 604 373.97 605 374.37 606 374.77 607 375.17 608 375.57 609 375.97 610 376.36 611 376.76 612 377.16 613 377.56 614 377.96 615 378.36 616 378.76 617 379.16 618 379.56 619 379.97 620 380.37 621 380.77 622 381.18 623 381.58 624 381.99 625 382.40 626 382.81 627 383.22 628 383.63 629 384.04 630 384.46 631 384.87 632 385.29 633 385.71 634 386.13 635 386.55 636 386.98 637 387.40 638 387.83 639 388.26 640 388.69 641 389.12 642 389.55 643 389.99 644 390.42 645 390.85 646 391.29 647 391.72 648 392.16 649 392.60 650 393.04 651 393.47 652 393.91 653 394.35 654 394.79 655 395.23 656 395.66 657 396.10 658 396.54 659 396.98 660 397.42 661 397.85 662 398.29 663 398.73 664 399.16 665 399.60 666 400.03 667 400.46 668 400.89 669 401.32 670 401.75 671 402.18 672 402.61 673 403.04 674 403.47 675 403.89 676 404.32 677 404.74 678 405.17 679 405.59 680 406.01 681 406.43 682 406.85 683 407.27 684 407.69 685 408.11 686 408.53 687 408.95 688 409.37 689 409.79 690 410.21 691 410.62 692 411.04 693 411.45 694 411.87 695 412.29 696 412.70 697 413.12 698 413.53 699 413.95 700 414.36 701 414.78 702 415.19 703 415.60 704 416.02 705 416.43 706 416.85 707 417.26 708 417.67 709 418.09 710 418.50 711 418.91 712 419.32 713 419.74 714 420.15 715 420.56 716 420.97 717 421.38 718 421.79 719 422.20 720 422.62 721 423.03 722 423.44 723 423.85 724 424.26 725 424.67 726 425.08 727 425.48 728 425.89 729 426.29 730 426.70 731 427.10 732 427.50 733 427.89 734 428.29 735 428.68 736 429.07 737 429.45 738 429.83 739 430.22 740 430.60 741 430.97 742 431.35 743 431.72 744 432.10 745 432.47 746 432.84 747 433.21 748 433.58 749 433.95 750 434.31 751 434.68 752 435.05 753 435.41 754 435.78 755 436.14 756 436.50 757 436.86 758 437.23 759 437.59 760 437.95 761 438.30 762 438.66 763 439.01 764 439.37 765 439.72 766 440.06 767 440.41 768 440.75 769 441.09 770 441.42 771 441.75 772 442.09 773 442.41 774 442.74 775 443.06 776 443.37 777 443.69 778 444.00 779 444.31 780 444.61 781 444.91 782 445.21 783 445.50 784 445.79 785 446.08 786 446.36 787 446.64 788 446.91 789 447.19 790 447.45 791 447.71 792 447.97 793 448.22 794 448.47 795 448.72 796 448.96 797 449.20 798 449.43 799 449.66 800 449.88 801 450.10 802 450.31 803 450.52 804 450.73 805 450.93 806 451.13 807 451.32 808 451.51 809 451.69 810 451.87 811 452.04 812 452.21 813 452.37 814 452.53 815 452.68 816 452.83 817 452.98 818 453.12 819 453.25 820 453.38 821 453.50 822 453.62 823 453.74 824 453.85 825 453.95 826 454.05 827 454.15 828 454.24 829 454.33 830 454.41 831 454.48 832 454.56 833 454.62 834 454.69 835 454.75 836 454.80 837 454.85 838 454.89 839 454.93 840 454.97 841 455.00 842 455.02 843 455.04 844 455.06 845 455.07 846 455.07 847 455.07 848 455.07 849 455.06 850 455.05 851 455.03 852 455.00 853 454.98 854 454.94 855 454.91 856 454.86 857 454.82 858 454.77 859 454.71 860 454.65 861 454.59 862 454.52 863 454.44 864 454.37 865 454.29 866 454.20 867 454.11 868 454.02 869 453.92 870 453.82 871 453.72 872 453.61 873 453.50 874 453.38 875 453.26 876 453.14 877 453.01 878 452.88 879 452.75 880 452.61 881 452.47 882 452.33 883 452.18 884 452.03 885 451.87 886 451.72 887 451.56 888 451.39 889 451.23 890 451.06 891 450.88 892 450.71 893 450.53 894 450.35 895 450.16 896 449.97 897 449.78 898 449.59 899 449.39 900 449.19 901 448.99 902 448.79 903 448.58 904 448.37 905 448.16 906 447.95 907 447.73 908 447.51 909 447.29 910 447.07 911 446.85 912 446.62 913 446.39 914 446.16 915 445.93 916 445.70 917 445.46 918 445.22 919 444.98 920 444.74 921 444.50 922 444.26 923 444.01 924 443.76 925 443.51 926 443.26 927 443.01 928 442.75 929 442.50 930 442.24 931 441.98 932 441.72 933 441.45 934 441.19 935 440.92 936 440.65 937 440.38 938 440.11 939 439.83 940 439.55 941 439.27 942 438.99 943 438.71 944 438.43 945 438.14 946 437.85 947 437.56 948 437.27 949 436.97 950 436.68 951 436.38 952 436.08 953 435.78 954 435.47 955 435.17 956 434.86 957 434.55 958 434.25 959 433.94 960 433.63 961 433.32 962 433.01 963 432.71 964 432.40 965 432.09 966 431.79 967 431.48 968 431.18 969 430.88 970 430.58 971 430.28 972 429.98 973 429.69 974 429.39 975 429.10 976 428.81 977 428.52 978 428.23 979 427.95 980 427.66 981 427.38 982 427.10 983 426.82 984 426.54 985 426.26 986 425.99 987 425.71 988 425.44 989 425.17 990 424.90 991 424.63 992 424.36 993 424.09 994 423.83 995 423.56 996 423.30 997 423.04 998 422.78 999 422.52 1000 422.26 1001 422.00 1002 421.75 1003 421.49 1004 421.24 1005 420.99 1006 420.73 1007 420.48 1008 420.23 1009 419.99 1010 419.74 1011 419.49 1012 419.25 1013 419.00 1014 418.76 1015 418.52 1016 418.27 1017 418.03 1018 417.79 1019 417.55 1020 417.31 1021 417.08 1022 416.84 1023 416.60 1024 416.37 1025 416.13 1026 415.90 1027 415.67 1028 415.43 1029 415.20 1030 414.97 1031 414.74 1032 414.51 1033 414.28 1034 414.06 1035 413.83 1036 413.60 1037 413.38 1038 413.16 1039 412.93 1040 412.71 1041 412.49 1042 412.27 1043 412.05 1044 411.83 1045 411.61 1046 411.39 1047 411.18 1048 410.96 1049 410.75 1050 410.53 1051 410.32 1052 410.11 1053 409.90 1054 409.69 1055 409.48 1056 409.28 1057 409.07 1058 408.86 1059 408.66 1060 408.46 1061 408.25 1062 408.05 1063 407.85 1064 407.65 1065 407.45 1066 407.25 1067 407.06 1068 406.86 1069 406.66 1070 406.47 1071 406.28 1072 406.08 1073 405.89 1074 405.70 1075 405.51 1076 405.32 1077 405.14 1078 404.95 1079 404.76 1080 404.58 1081 404.40 1082 404.21 1083 404.03 1084 403.85 1085 403.67 1086 403.49 1087 403.32 1088 403.14 1089 402.96 1090 402.79 1091 402.62 1092 402.45 1093 402.27 1094 402.11 1095 401.94 1096 401.77 1097 401.60 1098 401.44 1099 401.28 1100 401.11 1101 400.95 1102 400.79 1103 400.63 1104 400.48 1105 400.32 1106 400.16 1107 400.01 1108 399.86 1109 399.71 1110 399.56 1111 399.41 1112 399.26 1113 399.11 1114 398.97 1115 398.83 1116 398.68 1117 398.54 1118 398.40 1119 398.26 1120 398.13 1121 397.99 1122 397.86 1123 397.72 1124 397.59 1125 397.46 1126 397.33 1127 397.21 1128 397.08 1129 396.96 1130 396.83 1131 396.71 1132 396.59 1133 396.47 1134 396.35 1135 396.24 1136 396.12 1137 396.01 1138 395.89 1139 395.78 1140 395.67 1141 395.56 1142 395.46 1143 395.35 1144 395.25 1145 395.14 1146 395.04 1147 394.94 1148 394.84 1149 394.74 1150 394.64 1151 394.55 1152 394.45 1153 394.36 1154 394.26 1155 394.17 1156 394.08 1157 393.99 1158 393.90 1159 393.82 1160 393.73 1161 393.64 1162 393.56 1163 393.48 1164 393.39 1165 393.31 1166 393.23 1167 393.15 1168 393.07 1169 392.99 1170 392.91 1171 392.83 1172 392.75 1173 392.67 1174 392.60 1175 392.52 1176 392.44 1177 392.36 1178 392.29 1179 392.21 1180 392.13 1181 392.06 1182 391.98 1183 391.91 1184 391.83 1185 391.76 1186 391.69 1187 391.61 1188 391.54 1189 391.47 1190 391.40 1191 391.32 1192 391.25 1193 391.18 1194 391.11 1195 391.04 1196 390.97 1197 390.90 1198 390.84 1199 390.77 1200 390.70 1201 390.63 1202 390.56 1203 390.50 1204 390.43 1205 390.37 1206 390.30 1207 390.24 1208 390.17 1209 390.11 1210 390.05 1211 389.98 1212 389.92 1213 389.86 1214 389.80 1215 389.74 1216 389.68 1217 389.62 1218 389.56 1219 389.50 1220 389.44 1221 389.38 1222 389.32 1223 389.27 1224 389.21 1225 389.16 1226 389.10 1227 389.05 1228 389.00 1229 388.95 1230 388.90 1231 388.85 1232 388.80 1233 388.75 1234 388.70 1235 388.65 1236 388.61 1237 388.56 1238 388.52 1239 388.48 1240 388.43 1241 388.39 1242 388.35 1243 388.31 1244 388.27 1245 388.23 1246 388.20 1247 388.16 1248 388.12 1249 388.09 1250 388.05 1251 388.02 1252 387.98 1253 387.95 1254 387.92 1255 387.88 1256 387.85 1257 387.82 1258 387.79 1259 387.76 1260 387.73 1261 387.70 1262 387.67 1263 387.64 1264 387.61 1265 387.58 1266 387.55 1267 387.52 1268 387.49 1269 387.47 1270 387.44 1271 387.41 1272 387.39 1273 387.36 1274 387.34 1275 387.31 1276 387.28 1277 387.26 1278 387.24 1279 387.21 1280 387.19 1281 387.16 1282 387.14 1283 387.12 1284 387.09 1285 387.07 1286 387.05 1287 387.03 1288 387.00 1289 386.98 1290 386.96 1291 386.94 1292 386.92 1293 386.90 1294 386.88 1295 386.85 1296 386.83 1297 386.81 1298 386.79 1299 386.77 1300 386.75 1301 386.73 1302 386.72 1303 386.70 1304 386.68 1305 386.66 1306 386.64 1307 386.62 1308 386.60 1309 386.58 1310 386.56 1311 386.55 1312 386.53 1313 386.51 1314 386.49 1315 386.47 1316 386.46 1317 386.44 1318 386.42 1319 386.40 1320 386.39 1321 386.37 1322 386.35 1323 386.33 1324 386.32 1325 386.30 1326 386.28 1327 386.26 1328 386.25 1329 386.23 1330 386.21 1331 386.20" stroke="#00a0e6" stroke-width="3" fill="none" stroke-linejoin="round"/></g><path d="M4 31h3v1h-3zM3 32h1v1h-1zM7 32h1v1h-1zM3 33h1v1h-1zM7 33h1v1h-1zM7 34h1v1h-1zM6 35h1v1h-1zM5 36h1v1h-1zM4 37h1v1h-1zM3 38h1v1h-1zM3 39h1v1h-1zM3 40h5v1h-5zM11 31h3v1h-3zM10 32h1v1h-1zM14 32h1v1h-1zM10 33h1v1h-1zM14 33h1v1h-1zM10 34h1v1h-1zM14 34h1v1h-1zM10 35h1v1h-1zM14 35h1v1h-1zM10 36h1v1h-1zM14 36h1v1h-1zM10 37h1v1h-1zM14 37h1v1h-1zM10 38h1v1h-1zM14 38h1v1h-1zM10 39h1v1h-1zM14 39h1v1h-1zM11 40h3v1h-3zM5 66h1v1h-1zM3 67h3v1h-3zM5 68h1v1h-1zM5 69h1v1h-1zM5 70h1v1h-1zM5 71h1v1h-1zM5 72h1v1h-1zM5 73h1v1h-1zM5 74h1v1h-1zM5 75h1v1h-1zM11 66h3v1h-3zM10 67h1v1h-1zM14 67h1v1h-1zM10 68h1v1h-1zM14 68h1v1h-1zM10 69h1v1h-1zM14 69h1v1h-1zM11 70h3v1h-3zM10 71h1v1h-1zM14 71h1v1h-1zM10 72h1v1h-1zM14 72h1v1h-1zM10 73h1v1h-1zM14 73h1v1h-1zM10 74h1v1h-1zM14 74h1v1h-1zM11 75h3v1h-3zM5 108h1v1h-1zM3 109h3v1h-3zM5 110h1v1h-1zM5 111h1v1h-1zM5 112h1v1h-1zM5 113h1v1h-1zM5 114h1v1h-1zM5 115h1v1h-1zM5 116h1v1h-1zM5 117h1v1h-1zM11 108h3v1h-3zM10 109h1v1h-1zM14 109h1v1h-1zM10 110h1v1h-1zM10 111h1v1h-1zM10 112h1v1h-1zM12 112h2v1h-2zM10 113h2v1h-2zM14 113h1v1h-1zM10 114h1v1h-1zM14 114h1v1h-1zM10 115h1v1h-1zM14 115h1v1h-1zM10 116h1v1h-1zM14 116h1v1h-1zM11 117h3v1h-3zM5 151h1v1h-1zM3 152h3v1h-3zM5 153h1v1h-1zM5 154h1v1h-1zM5 155h1v1h-1zM5 156h1v1h-1zM5 157h1v1h-1zM5 158h1v1h-1zM5 159h1v1h-1zM5 160h1v1h-1zM14 151h1v1h-1zM13 152h2v1h-2zM12 153h1v1h-1zM14 153h1v1h-1zM12 154h1v1h-1zM14 154h1v1h-1zM11 155h1v1h-1zM14 155h1v1h-1zM10 156h1v1h-1zM14 156h1v1h-1zM10 157h5v1h-5zM14 158h1v1h-1zM14 159h1v1h-1zM14 160h1v1h-1zM5 194h1v1h-1zM3 195h3v1h-3zM5 196h1v1h-1zM5 197h1v1h-1zM5 198h1v1h-1zM5 199h1v1h-1zM5 200h1v1h-1zM5 201h1v1h-1zM5 202h1v1h-1zM5 203h1v1h-1zM11 194h3v1h-3zM10 195h1v1h-1zM14 195h1v1h-1zM10 196h1v1h-1zM14 196h1v1h-1zM14 197h1v1h-1zM13 198h1v1h-1zM12 199h1v1h-1zM11 200h1v1h-1zM10 201h1v1h-1zM10 202h1v1h-1zM10 203h5v1h-5zM5 237h1v1h-1zM3 238h3v1h-3zM5 239h1v1h-1zM5 240h1v1h-1zM5 241h1v1h-1zM5 242h1v1h-1zM5 243h1v1h-1zM5 244h1v1h-1zM5 245h1v1h-1zM5 246h1v1h-1zM11 237h3v1h-3zM10 238h1v1h-1zM14 238h1v1h-1zM10 239h1v1h-1zM14 239h1v1h-1zM10 240h1v1h-1zM14 240h1v1h-1zM10 241h1v1h-1zM14 241h1v1h-1zM10 242h1v1h-1zM14 242h1v1h-1zM10 243h1v1h-1zM14 243h1v1h-1zM10 244h1v1h-1zM14 244h1v1h-1zM10 245h1v1h-1zM14 245h1v1h-1zM11 246h3v1h-3zM11 279h3v1h-3zM10 280h1v1h-1zM14 280h1v1h-1zM10 281h1v1h-1zM14 281h1v1h-1zM10 282h1v1h-1zM14 282h1v1h-1zM11 283h3v1h-3zM10 284h1v1h-1zM14 284h1v1h-1zM10 285h1v1h-1zM14 285h1v1h-1zM10 286h1v1h-1zM14 286h1v1h-1zM10 287h1v1h-1zM14 287h1v1h-1zM11 288h3v1h-3zM11 322h3v1h-3zM10 323h1v1h-1zM14 323h1v1h-1zM10 324h1v1h-1zM10 325h1v1h-1zM10 326h1v1h-1zM12 326h2v1h-2zM10 327h2v1h-2zM14 327h1v1h-1zM10 328h1v1h-1zM14 328h1v1h-1zM10 329h1v1h-1zM14 329h1v1h-1zM10 330h1v1h-1zM14 330h1v1h-1zM11 331h3v1h-3zM14 365h1v1h-1zM13 366h2v1h-2zM12 367h1v1h-1zM14 367h1v1h-1zM12 368h1v1h-1zM14 368h1v1h-1zM11 369h1v1h-1zM14 369h1v1h-1zM10 370h1v1h-1zM14 370h1v1h-1zM10 371h5v1h-5zM14 372h1v1h-1zM14 373h1v1h-1zM14 374h1v1h-1zM11 408h3v1h-3zM10 409h1v1h-1zM14 409h1v1h-1zM10 410h1v1h-1zM14 410h1v1h-1zM14 411h1v1h-1zM13 412h1v1h-1zM12 413h1v1h-1zM11 414h1v1h-1zM10 415h1v1h-1zM10 416h1v1h-1zM10 417h5v1h-5zM11 450h3v1h-3zM10 451h1v1h-1zM14 451h1v1h-1zM10 452h1v1h-1zM14 452h1v1h-1zM10 453h1v1h-1zM14 453h1v1h-1zM10 454h1v1h-1zM14 454h1v1h-1zM10 455h1v1h-1zM14 455h1v1h-1zM10 456h1v1h-1zM14 456h1v1h-1zM10 457h1v1h-1zM14 457h1v1h-1zM10 458h1v1h-1zM14 458h1v1h-1zM11 459h3v1h-3zM5 490h4v1h-4zM11 485h3v1h-3zM10 486h1v1h-1zM14 486h1v1h-1zM10 487h1v1h-1zM14 487h1v1h-1zM14 488h1v1h-1zM13 489h1v1h-1zM12 490h1v1h-1zM11 491h1v1h-1zM10 492h1v1h-1zM10 493h1v1h-1zM10 494h5v1h-5zM25 509h3v1h-3zM24 510h1v1h-1zM28 510h1v1h-1zM24 511h1v1h-1zM28 511h1v1h-1zM28 512h1v1h-1zM27 513h1v1h-1zM26 514h1v1h-1zM25 515h1v1h-1zM24 516h1v1h-1zM24 517h1v1h-1zM24 518h5v1h-5zM32 509h3v1h-3zM31 510h1v1h-1zM35 510h1v1h-1zM31 511h1v1h-1zM35 511h1v1h-1zM31 512h1v1h-1zM35 512h1v1h-1zM31 513h1v1h-1zM35 513h1v1h-1zM31 514h1v1h-1zM35 514h1v1h-1zM31 515h1v1h-1zM35 515h1v1h-1zM31 516h1v1h-1zM35 516h1v1h-1zM31 517h1v1h-1zM35 517h1v1h-1zM32 518h3v1h-3zM95 509h3v1h-3zM94 510h1v1h-1zM98 510h1v1h-1zM98 511h1v1h-1zM98 512h1v1h-1zM96 513h2v1h-2zM98 514h1v1h-1zM98 515h1v1h-1zM98 516h1v1h-1zM94 517h1v1h-1zM98 517h1v1h-1zM95 518h3v1h-3zM102 509h3v1h-3zM101 510h1v1h-1zM105 510h1v1h-1zM101 511h1v1h-1zM105 511h1v1h-1zM101 512h1v1h-1zM105 512h1v1h-1zM101 513h1v1h-1zM105 513h1v1h-1zM101 514h1v1h-1zM105 514h1v1h-1zM101 515h1v1h-1zM105 515h1v1h-1zM101 516h1v1h-1zM105 516h1v1h-1zM101 517h1v1h-1zM105 517h1v1h-1zM102 518h3v1h-3zM152 509h1v1h-1zM151 510h2v1h-2zM150 511h1v1h-1zM152 511h1v1h-1zM150 512h1v1h-1zM152 512h1v1h-1zM149 513h1v1h-1zM152 513h1v1h-1zM148 514h1v1h-1zM152 514h1v1h-1zM148 515h5v1h-5zM152 516h1v1h-1zM152 517h1v1h-1zM152 518h1v1h-1zM156 509h3v1h-3zM155 510h1v1h-1zM159 510h1v1h-1zM155 511h1v1h-1zM159 511h1v1h-1zM155 512h1v1h-1zM159 512h1v1h-1zM155 513h1v1h-1zM159 513h1v1h-1zM155 514h1v1h-1zM159 514h1v1h-1zM155 515h1v1h-1zM159 515h1v1h-1zM155 516h1v1h-1zM159 516h1v1h-1zM155 517h1v1h-1zM159 517h1v1h-1zM156 518h3v1h-3zM190 509h5v1h-5zM190 510h1v1h-1zM190 511h1v1h-1zM190 512h1v1h-1zM190 513h4v1h-4zM190 514h1v1h-1zM194 514h1v1h-1zM194 515h1v1h-1zM194 516h1v1h-1zM190 517h1v1h-1zM194 517h1v1h-1zM191 518h3v1h-3zM198 509h3v1h-3zM197 510h1v1h-1zM201 510h1v1h-1zM197 511h1v1h-1zM201 511h1v1h-1zM197 512h1v1h-1zM201 512h1v1h-1zM197 513h1v1h-1zM201 513h1v1h-1zM197 514h1v1h-1zM201 514h1v1h-1zM197 515h1v1h-1zM201 515h1v1h-1zM197 516h1v1h-1zM201 516h1v1h-1zM197 517h1v1h-1zM201 517h1v1h-1zM198 518h3v1h-3zM226 509h3v1h-3zM225 510h1v1h-1zM229 510h1v1h-1zM225 511h1v1h-1zM225 512h1v1h-1zM225 513h1v1h-1zM227 513h2v1h-2zM225 514h2v1h-2zM229 514h1v1h-1zM225 515h1v1h-1zM229 515h1v1h-1zM225 516h1v1h-1zM229 516h1v1h-1zM225 517h1v1h-1zM229 517h1v1h-1zM226 518h3v1h-3zM233 509h3v1h-3zM232 510h1v1h-1zM236 510h1v1h-1zM232 511h1v1h-1zM236 511h1v1h-1zM232 512h1v1h-1zM236 512h1v1h-1zM232 513h1v1h-1zM236 513h1v1h-1zM232 514h1v1h-1zM236 514h1v1h-1zM232 515h1v1h-1zM236 515h1v1h-1zM232 516h1v1h-1zM236 516h1v1h-1zM232 517h1v1h-1zM236 517h1v1h-1zM233 518h3v1h-3zM254 509h5v1h-5zM258 510h1v1h-1zM258 511h1v1h-1zM257 512h1v1h-1zM257 513h1v1h-1zM256 514h1v1h-1zM256 515h1v1h-1zM255 516h1v1h-1zM255 517h1v1h-1zM255 518h1v1h-1zM262 509h3v1h-3zM261 510h1v1h-1zM265 510h1v1h-1zM261 511h1v1h-1zM265 511h1v1h-1zM261 512h1v1h-1zM265 512h1v1h-1zM261 513h1v1h-1zM265 513h1v1h-1zM261 514h1v1h-1zM265 514h1v1h-1zM261 515h1v1h-1zM265 515h1v1h-1zM261 516h1v1h-1zM265 516h1v1h-1zM261 517h1v1h-1zM265 517h1v1h-1zM262 518h3v1h-3zM280 509h3v1h-3zM279 510h1v1h-1zM283 510h1v1h-1zM279 511h1v1h-1zM283 511h1v1h-1zM279 512h1v1h-1zM283 512h1v1h-1zM280 513h3v1h-3zM279 514h1v1h-1zM283 514h1v1h-1zM279 515h1v1h-1zM283 515h1v1h-1zM279 516h1v1h-1zM283 516h1v1h-1zM279 517h1v1h-1zM283 517h1v1h-1zM280 518h3v1h-3zM287 509h3v1h-3zM286 510h1v1h-1zM290 510h1v1h-1zM286 511h1v1h-1zM290 511h1v1h-1zM286 512h1v1h-1zM290 512h1v1h-1zM286 513h1v1h-1zM290 513h1v1h-1zM286 514h1v1h-1zM290 514h1v1h-1zM286 515h1v1h-1zM290 515h1v1h-1zM286 516h1v1h-1zM290 516h1v1h-1zM286 517h1v1h-1zM290 517h1v1h-1zM287 518h3v1h-3zM303 509h3v1h-3zM302 510h1v1h-1zM306 510h1v1h-1zM302 511h1v1h-1zM306 511h1v1h-1zM302 512h1v1h-1zM306 512h1v1h-1zM302 513h1v1h-1zM305 513h2v1h-2zM303 514h2v1h-2zM306 514h1v1h-1zM306 515h1v1h-1zM306 516h1v1h-1zM302 517h1v1h-1zM306 517h1v1h-1zM303 518h3v1h-3zM310 509h3v1h-3zM309 510h1v1h-1zM313 510h1v1h-1zM309 511h1v1h-1zM313 511h1v1h-1zM309 512h1v1h-1zM313 512h1v1h-1zM309 513h1v1h-1zM313 513h1v1h-1zM309 514h1v1h-1zM313 514h1v1h-1zM309 515h1v1h-1zM313 515h1v1h-1zM309 516h1v1h-1zM313 516h1v1h-1zM309 517h1v1h-1zM313 517h1v1h-1zM310 518h3v1h-3zM450 509h3v1h-3zM449 510h1v1h-1zM453 510h1v1h-1zM449 511h1v1h-1zM453 511h1v1h-1zM453 512h1v1h-1zM452 513h1v1h-1zM451 514h1v1h-1zM450 515h1v1h-1zM449 516h1v1h-1zM449 517h1v1h-1zM449 518h5v1h-5zM457 509h3v1h-3zM456 510h1v1h-1zM460 510h1v1h-1zM456 511h1v1h-1zM460 511h1v1h-1zM456 512h1v1h-1zM460 512h1v1h-1zM456 513h1v1h-1zM460 513h1v1h-1zM456 514h1v1h-1zM460 514h1v1h-1zM456 515h1v1h-1zM460 515h1v1h-1zM456 516h1v1h-1zM460 516h1v1h-1zM456 517h1v1h-1zM460 517h1v1h-1zM457 518h3v1h-3zM464 509h3v1h-3zM463 510h1v1h-1zM467 510h1v1h-1zM463 511h1v1h-1zM467 511h1v1h-1zM463 512h1v1h-1zM467 512h1v1h-1zM463 513h1v1h-1zM467 513h1v1h-1zM463 514h1v1h-1zM467 514h1v1h-1zM463 515h1v1h-1zM467 515h1v1h-1zM463 516h1v1h-1zM467 516h1v1h-1zM463 517h1v1h-1zM467 517h1v1h-1zM464 518h3v1h-3zM527 509h3v1h-3zM526 510h1v1h-1zM530 510h1v1h-1zM530 511h1v1h-1zM530 512h1v1h-1zM528 513h2v1h-2zM530 514h1v1h-1zM530 515h1v1h-1zM530 516h1v1h-1zM526 517h1v1h-1zM530 517h1v1h-1zM527 518h3v1h-3zM534 509h3v1h-3zM533 510h1v1h-1zM537 510h1v1h-1zM533 511h1v1h-1zM537 511h1v1h-1zM533 512h1v1h-1zM537 512h1v1h-1zM533 513h1v1h-1zM537 513h1v1h-1zM533 514h1v1h-1zM537 514h1v1h-1zM533 515h1v1h-1zM537 515h1v1h-1zM533 516h1v1h-1zM537 516h1v1h-1zM533 517h1v1h-1zM537 517h1v1h-1zM534 518h3v1h-3zM541 509h3v1h-3zM540 510h1v1h-1zM544 510h1v1h-1zM540 511h1v1h-1zM544 511h1v1h-1zM540 512h1v1h-1zM544 512h1v1h-1zM540 513h1v1h-1zM544 513h1v1h-1zM540 514h1v1h-1zM544 514h1v1h-1zM540 515h1v1h-1zM544 515h1v1h-1zM540 516h1v1h-1zM544 516h1v1h-1zM540 517h1v1h-1zM544 517h1v1h-1zM541 518h3v1h-3zM584 509h1v1h-1zM583 510h2v1h-2zM582 511h1v1h-1zM584 511h1v1h-1zM582 512h1v1h-1zM584 512h1v1h-1zM581 513h1v1h-1zM584 513h1v1h-1zM580 514h1v1h-1zM584 514h1v1h-1zM580 515h5v1h-5zM584 516h1v1h-1zM584 517h1v1h-1zM584 518h1v1h-1zM588 509h3v1h-3zM587 510h1v1h-1zM591 510h1v1h-1zM587 511h1v1h-1zM591 511h1v1h-1zM587 512h1v1h-1zM591 512h1v1h-1zM587 513h1v1h-1zM591 513h1v1h-1zM587 514h1v1h-1zM591 514h1v1h-1zM587 515h1v1h-1zM591 515h1v1h-1zM587 516h1v1h-1zM591 516h1v1h-1zM587 517h1v1h-1zM591 517h1v1h-1zM588 518h3v1h-3zM595 509h3v1h-3zM594 510h1v1h-1zM598 510h1v1h-1zM594 511h1v1h-1zM598 511h1v1h-1zM594 512h1v1h-1zM598 512h1v1h-1zM594 513h1v1h-1zM598 513h1v1h-1zM594 514h1v1h-1zM598 514h1v1h-1zM594 515h1v1h-1zM598 515h1v1h-1zM594 516h1v1h-1zM598 516h1v1h-1zM594 517h1v1h-1zM598 517h1v1h-1zM595 518h3v1h-3zM622 509h5v1h-5zM622 510h1v1h-1zM622 511h1v1h-1zM622 512h1v1h-1zM622 513h4v1h-4zM622 514h1v1h-1zM626 514h1v1h-1zM626 515h1v1h-1zM626 516h1v1h-1zM622 517h1v1h-1zM626 517h1v1h-1zM623 518h3v1h-3zM630 509h3v1h-3zM629 510h1v1h-1zM633 510h1v1h-1zM629 511h1v1h-1zM633 511h1v1h-1zM629 512h1v1h-1zM633 512h1v1h-1zM629 513h1v1h-1zM633 513h1v1h-1zM629 514h1v1h-1zM633 514h1v1h-1zM629 515h1v1h-1zM633 515h1v1h-1zM629 516h1v1h-1zM633 516h1v1h-1zM629 517h1v1h-1zM633 517h1v1h-1zM630 518h3v1h-3zM637 509h3v1h-3zM636 510h1v1h-1zM640 510h1v1h-1zM636 511h1v1h-1zM640 511h1v1h-1zM636 512h1v1h-1zM640 512h1v1h-1zM636 513h1v1h-1zM640 513h1v1h-1zM636 514h1v1h-1zM640 514h1v1h-1zM636 515h1v1h-1zM640 515h1v1h-1zM636 516h1v1h-1zM640 516h1v1h-1zM636 517h1v1h-1zM640 517h1v1h-1zM637 518h3v1h-3zM658 509h3v1h-3zM657 510h1v1h-1zM661 510h1v1h-1zM657 511h1v1h-1zM657 512h1v1h-1zM657 513h1v1h-1zM659 513h2v1h-2zM657 514h2v1h-2zM661 514h1v1h-1zM657 515h1v1h-1zM661 515h1v1h-1zM657 516h1v1h-1zM661 516h1v1h-1zM657 517h1v1h-1zM661 517h1v1h-1zM658 518h3v1h-3zM665 509h3v1h-3zM664 510h1v1h-1zM668 510h1v1h-1zM664 511h1v1h-1zM668 511h1v1h-1zM664 512h1v1h-1zM668 512h1v1h-1zM664 513h1v1h-1zM668 513h1v1h-1zM664 514h1v1h-1zM668 514h1v1h-1zM664 515h1v1h-1zM668 515h1v1h-1zM664 516h1v1h-1zM668 516h1v1h-1zM664 517h1v1h-1zM668 517h1v1h-1zM665 518h3v1h-3zM672 509h3v1h-3zM671 510h1v1h-1zM675 510h1v1h-1zM671 511h1v1h-1zM675 511h1v1h-1zM671 512h1v1h-1zM675 512h1v1h-1zM671 513h1v1h-1zM675 513h1v1h-1zM671 514h1v1h-1zM675 514h1v1h-1zM671 515h1v1h-1zM675 515h1v1h-1zM671 516h1v1h-1zM675 516h1v1h-1zM671 517h1v1h-1zM675 517h1v1h-1zM672 518h3v1h-3zM686 509h5v1h-5zM690 510h1v1h-1zM690 511h1v1h-1zM689 512h1v1h-1zM689 513h1v1h-1zM688 514h1v1h-1zM688 515h1v1h-1zM687 516h1v1h-1zM687 517h1v1h-1zM687 518h1v1h-1zM694 509h3v1h-3zM693 510h1v1h-1zM697 510h1v1h-1zM693 511h1v1h-1zM697 511h1v1h-1zM693 512h1v1h-1zM697 512h1v1h-1zM693 513h1v1h-1zM697 513h1v1h-1zM693 514h1v1h-1zM697 514h1v1h-1zM693 515h1v1h-1zM697 515h1v1h-1zM693 516h1v1h-1zM697 516h1v1h-1zM693 517h1v1h-1zM697 517h1v1h-1zM694 518h3v1h-3zM701 509h3v1h-3zM700 510h1v1h-1zM704 510h1v1h-1zM700 511h1v1h-1zM704 511h1v1h-1zM700 512h1v1h-1zM704 512h1v1h-1zM700 513h1v1h-1zM704 513h1v1h-1zM700 514h1v1h-1zM704 514h1v1h-1zM700 515h1v1h-1zM704 515h1v1h-1zM700 516h1v1h-1zM704 516h1v1h-1zM700 517h1v1h-1zM704 517h1v1h-1zM701 518h3v1h-3zM712 509h3v1h-3zM711 510h1v1h-1zM715 510h1v1h-1zM711 511h1v1h-1zM715 511h1v1h-1zM711 512h1v1h-1zM715 512h1v1h-1zM712 513h3v1h-3zM711 514h1v1h-1zM715 514h1v1h-1zM711 515h1v1h-1zM715 515h1v1h-1zM711 516h1v1h-1zM715 516h1v1h-1zM711 517h1v1h-1zM715 517h1v1h-1zM712 518h3v1h-3zM719 509h3v1h-3zM718 510h1v1h-1zM722 510h1v1h-1zM718 511h1v1h-1zM722 511h1v1h-1zM718 512h1v1h-1zM722 512h1v1h-1zM718 513h1v1h-1zM722 513h1v1h-1zM718 514h1v1h-1zM722 514h1v1h-1zM718 515h1v1h-1zM722 515h1v1h-1zM718 516h1v1h-1zM722 516h1v1h-1zM718 517h1v1h-1zM722 517h1v1h-1zM719 518h3v1h-3zM726 509h3v1h-3zM725 510h1v1h-1zM729 510h1v1h-1zM725 511h1v1h-1zM729 511h1v1h-1zM725 512h1v1h-1zM729 512h1v1h-1zM725 513h1v1h-1zM729 513h1v1h-1zM725 514h1v1h-1zM729 514h1v1h-1zM725 515h1v1h-1zM729 515h1v1h-1zM725 516h1v1h-1zM729 516h1v1h-1zM725 517h1v1h-1zM729 517h1v1h-1zM726 518h3v1h-3zM759 509h1v1h-1zM757 510h3v1h-3zM759 511h1v1h-1zM759 512h1v1h-1zM759 513h1v1h-1zM759 514h1v1h-1zM759 515h1v1h-1zM759 516h1v1h-1zM759 517h1v1h-1zM759 518h1v1h-1zM764 509h1v1h-1zM764 510h1v1h-1zM764 511h1v1h-1zM764 512h1v1h-1zM768 512h1v1h-1zM764 513h1v1h-1zM767 513h1v1h-1zM764 514h1v1h-1zM766 514h1v1h-1zM764 515h3v1h-3zM764 516h1v1h-1zM767 516h1v1h-1zM764 517h1v1h-1zM768 517h1v1h-1zM764 518h1v1h-1zM769 518h1v1h-1zM889 509h3v1h-3zM888 510h1v1h-1zM892 510h1v1h-1zM888 511h1v1h-1zM892 511h1v1h-1zM892 512h1v1h-1zM891 513h1v1h-1zM890 514h1v1h-1zM889 515h1v1h-1zM888 516h1v1h-1zM888 517h1v1h-1zM888 518h5v1h-5zM895 509h1v1h-1zM895 510h1v1h-1zM895 511h1v1h-1zM895 512h1v1h-1zM899 512h1v1h-1zM895 513h1v1h-1zM898 513h1v1h-1zM895 514h1v1h-1zM897 514h1v1h-1zM895 515h3v1h-3zM895 516h1v1h-1zM898 516h1v1h-1zM895 517h1v1h-1zM899 517h1v1h-1zM895 518h1v1h-1zM900 518h1v1h-1zM965 509h3v1h-3zM964 510h1v1h-1zM968 510h1v1h-1zM968 511h1v1h-1zM968 512h1v1h-1zM966 513h2v1h-2zM968 514h1v1h-1zM968 515h1v1h-1zM968 516h1v1h-1zM964 517h1v1h-1zM968 517h1v1h-1zM965 518h3v1h-3zM971 509h1v1h-1zM971 510h1v1h-1zM971 511h1v1h-1zM971 512h1v1h-1zM975 512h1v1h-1zM971 513h1v1h-1zM974 513h1v1h-1zM971 514h1v1h-1zM973 514h1v1h-1zM971 515h3v1h-3zM971 516h1v1h-1zM974 516h1v1h-1zM971 517h1v1h-1zM975 517h1v1h-1zM971 518h1v1h-1zM976 518h1v1h-1zM1023 509h1v1h-1zM1022 510h2v1h-2zM1021 511h1v1h-1zM1023 511h1v1h-1zM1021 512h1v1h-1zM1023 512h1v1h-1zM1020 513h1v1h-1zM1023 513h1v1h-1zM1019 514h1v1h-1zM1023 514h1v1h-1zM1019 515h5v1h-5zM1023 516h1v1h-1zM1023 517h1v1h-1zM1023 518h1v1h-1zM1026 509h1v1h-1zM1026 510h1v1h-1zM1026 511h1v1h-1zM1026 512h1v1h-1zM1030 512h1v1h-1zM1026 513h1v1h-1zM1029 513h1v1h-1zM1026 514h1v1h-1zM1028 514h1v1h-1zM1026 515h3v1h-3zM1026 516h1v1h-1zM1029 516h1v1h-1zM1026 517h1v1h-1zM1030 517h1v1h-1zM1026 518h1v1h-1zM1031 518h1v1h-1zM1061 509h5v1h-5zM1061 510h1v1h-1zM1061 511h1v1h-1zM1061 512h1v1h-1zM1061 513h4v1h-4zM1061 514h1v1h-1zM1065 514h1v1h-1zM1065 515h1v1h-1zM1065 516h1v1h-1zM1061 517h1v1h-1zM1065 517h1v1h-1zM1062 518h3v1h-3zM1068 509h1v1h-1zM1068 510h1v1h-1zM1068 511h1v1h-1zM1068 512h1v1h-1zM1072 512h1v1h-1zM1068 513h1v1h-1zM1071 513h1v1h-1zM1068 514h1v1h-1zM1070 514h1v1h-1zM1068 515h3v1h-3zM1068 516h1v1h-1zM1071 516h1v1h-1zM1068 517h1v1h-1zM1072 517h1v1h-1zM1068 518h1v1h-1zM1073 518h1v1h-1zM1097 509h3v1h-3zM1096 510h1v1h-1zM1100 510h1v1h-1zM1096 511h1v1h-1zM1096 512h1v1h-1zM1096 513h1v1h-1zM1098 513h2v1h-2zM1096 514h2v1h-2zM1100 514h1v1h-1zM1096 515h1v1h-1zM1100 515h1v1h-1zM1096 516h1v1h-1zM1100 516h1v1h-1zM1096 517h1v1h-1zM1100 517h1v1h-1zM1097 518h3v1h-3zM1103 509h1v1h-1zM1103 510h1v1h-1zM1103 511h1v1h-1zM1103 512h1v1h-1zM1107 512h1v1h-1zM1103 513h1v1h-1zM1106 513h1v1h-1zM1103 514h1v1h-1zM1105 514h1v1h-1zM1103 515h3v1h-3zM1103 516h1v1h-1zM1106 516h1v1h-1zM1103 517h1v1h-1zM1107 517h1v1h-1zM1103 518h1v1h-1zM1108 518h1v1h-1zM1125 509h5v1h-5zM1129 510h1v1h-1zM1129 511h1v1h-1zM1128 512h1v1h-1zM1128 513h1v1h-1zM1127 514h1v1h-1zM1127 515h1v1h-1zM1126 516h1v1h-1zM1126 517h1v1h-1zM1126 518h1v1h-1zM1132 509h1v1h-1zM1132 510h1v1h-1zM1132 511h1v1h-1zM1132 512h1v1h-1zM1136 512h1v1h-1zM1132 513h1v1h-1zM1135 513h1v1h-1zM1132 514h1v1h-1zM1134 514h1v1h-1zM1132 515h3v1h-3zM1132 516h1v1h-1zM1135 516h1v1h-1zM1132 517h1v1h-1zM1136 517h1v1h-1zM1132 518h1v1h-1zM1137 518h1v1h-1zM1151 509h3v1h-3zM1150 510h1v1h-1zM1154 510h1v1h-1zM1150 511h1v1h-1zM1154 511h1v1h-1zM1150 512h1v1h-1zM1154 512h1v1h-1zM1151 513h3v1h-3zM1150 514h1v1h-1zM1154 514h1v1h-1zM1150 515h1v1h-1zM1154 515h1v1h-1zM1150 516h1v1h-1zM1154 516h1v1h-1zM1150 517h1v1h-1zM1154 517h1v1h-1zM1151 518h3v1h-3zM1157 509h1v1h-1zM1157 510h1v1h-1zM1157 511h1v1h-1zM1157 512h1v1h-1zM1161 512h1v1h-1zM1157 513h1v1h-1zM1160 513h1v1h-1zM1157 514h1v1h-1zM1159 514h1v1h-1zM1157 515h3v1h-3zM1157 516h1v1h-1zM1160 516h1v1h-1zM1157 517h1v1h-1zM1161 517h1v1h-1zM1157 518h1v1h-1zM1162 518h1v1h-1zM1191 509h1v1h-1zM1189 510h3v1h-3zM1191 511h1v1h-1zM1191 512h1v1h-1zM1191 513h1v1h-1zM1191 514h1v1h-1zM1191 515h1v1h-1zM1191 516h1v1h-1zM1191 517h1v1h-1zM1191 518h1v1h-1zM1197 509h3v1h-3zM1196 510h1v1h-1zM1200 510h1v1h-1zM1196 511h1v1h-1zM1200 511h1v1h-1zM1196 512h1v1h-1zM1200 512h1v1h-1zM1196 513h1v1h-1zM1200 513h1v1h-1zM1196 514h1v1h-1zM1200 514h1v1h-1zM1196 515h1v1h-1zM1200 515h1v1h-1zM1196 516h1v1h-1zM1200 516h1v1h-1zM1196 517h1v1h-1zM1200 517h1v1h-1zM1197 518h3v1h-3zM1203 509h1v1h-1zM1203 510h1v1h-1zM1203 511h1v1h-1zM1203 512h1v1h-1zM1207 512h1v1h-1zM1203 513h1v1h-1zM1206 513h1v1h-1zM1203 514h1v1h-1zM1205 514h1v1h-1zM1203 515h3v1h-3zM1203 516h1v1h-1zM1206 516h1v1h-1zM1203 517h1v1h-1zM1207 517h1v1h-1zM1203 518h1v1h-1zM1208 518h1v1h-1zM1311 509h3v1h-3zM1310 510h1v1h-1zM1314 510h1v1h-1zM1310 511h1v1h-1zM1314 511h1v1h-1zM1314 512h1v1h-1zM1313 513h1v1h-1zM1312 514h1v1h-1zM1311 515h1v1h-1zM1310 516h1v1h-1zM1310 517h1v1h-1zM1310 518h5v1h-5zM1318 509h3v1h-3zM1317 510h1v1h-1zM1321 510h1v1h-1zM1317 511h1v1h-1zM1321 511h1v1h-1zM1317 512h1v1h-1zM1321 512h1v1h-1zM1317 513h1v1h-1zM1321 513h1v1h-1zM1317 514h1v1h-1zM1321 514h1v1h-1zM1317 515h1v1h-1zM1321 515h1v1h-1zM1317 516h1v1h-1zM1321 516h1v1h-1zM1317 517h1v1h-1zM1321 517h1v1h-1zM1318 518h3v1h-3zM1324 509h1v1h-1zM1324 510h1v1h-1zM1324 511h1v1h-1zM1324 512h1v1h-1zM1328 512h1v1h-1zM1324 513h1v1h-1zM1327 513h1v1h-1zM1324 514h1v1h-1zM1326 514h1v1h-1zM1324 515h3v1h-3zM1324 516h1v1h-1zM1327 516h1v1h-1zM1324 517h1v1h-1zM1328 517h1v1h-1zM1324 518h1v1h-1zM1329 518h1v1h-1z" fill="#000"/></svg>
<div class="t" style="left:606px;top:1px;font-size:22px;color:#000;font-weight:normal;letter-spacing:-0.5px;filter:url(#k)">AC Sweep</div>
<div class="t" style="left:769px;top:39px;font-size:33px;color:#000;font-weight:normal;transform:scaleX(0.94);transform-origin:0 0;will-change:transform;-webkit-text-stroke:0.25px #fff">НЧ <span style="position:relative;left:2px">1</span>00%</div>
<div class="t" style="left:769px;top:81px;font-size:33px;color:#109a30;font-weight:normal;transform:scaleX(0.935);transform-origin:0 0;will-change:transform;-webkit-text-stroke:0.25px #fff">ВЧ <span style="position:relative;left:2px">1</span>00%</div>
<div class="t" style="left:769px;top:124px;font-size:33px;color:#08a4ee;font-weight:normal;transform:scaleX(0.925);transform-origin:0 0;will-change:transform;-webkit-text-stroke:0.25px #fff">ВЧ 50%</div>
<div class="t" style="left:769px;top:166px;font-size:33px;color:#3838c8;font-weight:normal;transform:scaleX(0.92);transform-origin:0 0;will-change:transform;-webkit-text-stroke:0.25px #fff">ВЧ 0%</div>
<div style="position:absolute;left:824px;top:64px;width:6px;height:3px;background:#fff"></div>
<div style="position:absolute;left:833px;top:64px;width:6px;height:3px;background:#fff"></div>
<div style="position:absolute;left:821px;top:106px;width:6px;height:3px;background:#fff"></div>
<div style="position:absolute;left:830px;top:106px;width:5px;height:3px;background:#fff"></div>
<div class="t" style="left:417px;top:42px;font-size:33px;color:#870020;font-weight:bold;transform:scaleX(0.92);transform-origin:0 0;will-change:transform;-webkit-text-stroke:0.6px #870020">ФРТ</div>
</body></html>
